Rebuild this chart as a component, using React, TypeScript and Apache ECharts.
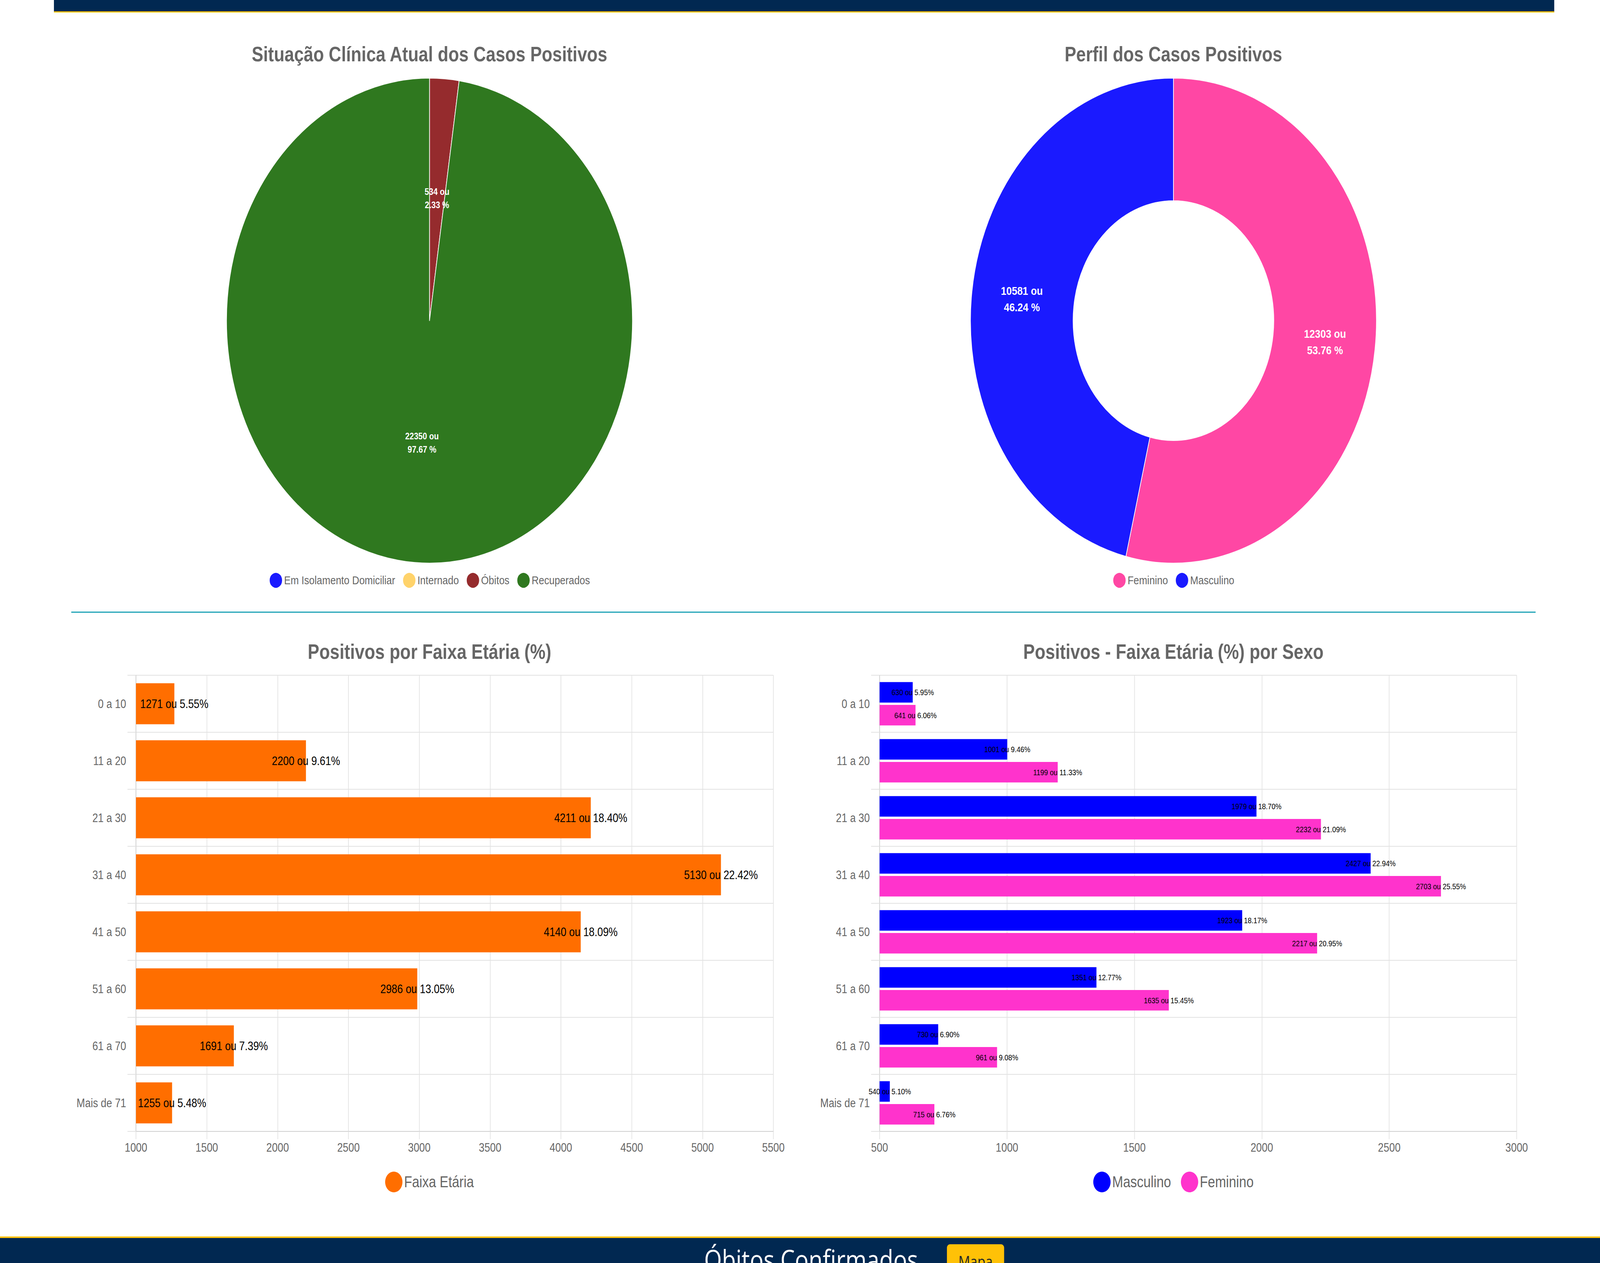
import { useEffect, useRef } from 'react';
import * as echarts from 'echarts';

const FONT = '"Liberation Sans", Arial, Helvetica, sans-serif';
const PAGE_W = 4895;
const PAGE_H = 3234;

// situação clínica
const situacaoNomes = ['Em Isolamento Domiciliar', 'Internado', 'Óbitos', 'Recuperados'];
const situacaoValores = [0, 0, 534, 22350];
const situacaoCores = ['#1a1aff', '#ffd36b', '#952b2d', '#2f781f'];

// perfil por sexo
const sexoNomes = ['Feminino', 'Masculino'];
const sexoValores = [12303, 10581];
const sexoCores = ['#ff47a4', '#1a1aff'];

// faixas etárias
const faixas = ['0 a 10', '11 a 20', '21 a 30', '31 a 40', '41 a 50', '51 a 60', '61 a 70', 'Mais de 71'];
const faixaTotal = [1271, 2200, 4211, 5130, 4140, 2986, 1691, 1255];
const faixaTotalPct = ['5.55', '9.61', '18.40', '22.42', '18.09', '13.05', '7.39', '5.48'];
const masculino = [630, 1001, 1979, 2427, 1923, 1351, 730, 540];
const masculinoPct = ['5.95', '9.46', '18.70', '22.94', '18.17', '12.77', '6.90', '5.10'];
const feminino = [641, 1199, 2232, 2703, 2217, 1635, 961, 715];
const femininoPct = ['6.06', '11.33', '21.09', '25.55', '20.95', '15.45', '9.08', '6.76'];

const titleStyle = { fontSize: 53, fontWeight: 'bold' as const, color: '#666', fontFamily: FONT };

const pieLegend = (names: string[]) => ({
  data: names,
  left: 'center',
  top: 1420,
  icon: 'circle',
  itemWidth: 40,
  itemHeight: 40,
  itemGap: 22,
  textStyle: { fontSize: 30, color: '#666', fontFamily: FONT },
});

const situacaoOption = {
  animation: false,
  title: { text: 'Situação Clínica Atual dos Casos Positivos', left: 'center', top: 72, padding: 0, textStyle: titleStyle },
  legend: pieLegend(situacaoNomes),
  series: [
    {
      type: 'pie',
      center: [1125, 781],
      radius: 621,
      startAngle: 90,
      percentPrecision: 2,
      itemStyle: { borderColor: '#fff', borderWidth: 2 },
      label: {
        show: true,
        position: 'inside',
        formatter: '{c} ou\n{d} %',
        color: '#fff',
        fontSize: 24,
        fontWeight: 'bold',
        lineHeight: 34,
        fontFamily: FONT,
      },
      labelLine: { show: false },
      data: situacaoNomes.map((name, i) => ({ name, value: situacaoValores[i], itemStyle: { color: situacaoCores[i] } })),
    },
  ],
};

const sexoOption = {
  animation: false,
  title: { text: 'Perfil dos Casos Positivos', left: 'center', top: 72, padding: 0, textStyle: titleStyle },
  legend: pieLegend(sexoNomes),
  series: [
    {
      type: 'pie',
      center: [1125, 781],
      radius: [307, 621],
      startAngle: 90,
      percentPrecision: 2,
      itemStyle: { borderColor: '#fff', borderWidth: 2 },
      label: {
        show: true,
        position: 'inside',
        formatter: '{c} ou\n{d} %',
        color: '#fff',
        fontSize: 30,
        fontWeight: 'bold',
        lineHeight: 42,
        fontFamily: FONT,
      },
      labelLine: { show: false },
      data: sexoNomes.map((name, i) => ({ name, value: sexoValores[i], itemStyle: { color: sexoCores[i] } })),
    },
  ],
};

const axisText = { fontSize: 31, color: '#666', fontFamily: FONT };
const gridGray = '#e2e2e2';

const categoryAxis = {
  type: 'category',
  inverse: true,
  data: faixas,
  axisLabel: { ...axisText, margin: 30 },
  axisTick: { show: true, length: 26, lineStyle: { color: gridGray, width: 2 } },
  axisLine: { show: true, lineStyle: { color: '#cfcfcf', width: 2 } },
  splitLine: { show: true, lineStyle: { color: gridGray, width: 2 } },
};

const valueAxis = (min: number, max: number) => ({
  type: 'value',
  min,
  max,
  interval: 500,
  axisLabel: { ...axisText, margin: 26, formatter: (v: number) => String(v) },
  axisTick: { show: true, length: 20, lineStyle: { color: gridGray, width: 2 } },
  axisLine: { show: true, lineStyle: { color: '#cfcfcf', width: 2 } },
  splitLine: { show: true, lineStyle: { color: gridGray, width: 2 } },
});

const barLegend = (names: string[]) => ({
  data: names,
  left: 'center',
  top: 1405,
  icon: 'circle',
  itemWidth: 53,
  itemHeight: 53,
  itemGap: 30,
  textStyle: { fontSize: 40, color: '#666', fontFamily: FONT },
});

const faixaOption = {
  animation: false,
  title: { text: 'Positivos por Faixa Etária (%)', left: 'center', top: 52, padding: 0, textStyle: titleStyle },
  legend: barLegend(['Faixa Etária']),
  grid: { left: 227, top: 139, width: 1950, height: 1168 },
  xAxis: valueAxis(1000, 5500),
  yAxis: categoryAxis,
  series: [
    {
      name: 'Faixa Etária',
      type: 'bar',
      data: faixaTotal,
      barWidth: '72%',
      itemStyle: { color: '#ff6e00' },
      label: {
        show: true,
        position: 'right',
        distance: 0,
        align: 'center',
        fontSize: 31,
        color: '#000',
        fontFamily: FONT,
        formatter: (p: any) => `${p.value} ou ${faixaTotalPct[p.dataIndex]}%`,
      },
    },
  ],
};

const sexoBarLabel = (pct: string[]) => ({
  show: true,
  position: 'right',
  distance: 0,
  align: 'center',
  fontSize: 21,
  color: '#000',
  fontFamily: FONT,
  formatter: (p: any) => `${p.value} ou ${pct[p.dataIndex]}%`,
});

const faixaSexoOption = {
  animation: false,
  title: { text: 'Positivos - Faixa Etária (%) por Sexo', left: 'center', top: 52, padding: 0, textStyle: titleStyle },
  legend: barLegend(['Masculino', 'Feminino']),
  grid: { left: 226, top: 139, width: 1949, height: 1168 },
  xAxis: valueAxis(500, 3000),
  yAxis: categoryAxis,
  series: [
    {
      name: 'Masculino',
      type: 'bar',
      data: masculino,
      barWidth: '36%',
      barGap: '11%',
      itemStyle: { color: '#0000ff' },
      label: sexoBarLabel(masculinoPct),
    },
    {
      name: 'Feminino',
      type: 'bar',
      data: feminino,
      barWidth: '36%',
      barGap: '11%',
      itemStyle: { color: '#ff33cc' },
      label: sexoBarLabel(femininoPct),
    },
  ],
};

function Chart({ option, style }: { option: any; style: React.CSSProperties }) {
  const ref = useRef<HTMLDivElement>(null);

  useEffect(() => {
    if (!ref.current) return;
    const chart = echarts.init(ref.current, null, { renderer: 'svg' });
    chart.setOption(option);
    return () => {
      chart.dispose();
    };
  }, [option]);

  return <div ref={ref} style={{ position: 'absolute', ...style }} />;
}

export default function App() {
  // the page is drawn on a 4895 x 3234 board and fitted onto the real viewport
  const vw = window.innerWidth || PAGE_W;
  const vh = window.innerHeight || PAGE_H;
  const sx = vw / PAGE_W;
  const sy = vh / PAGE_H;

  return (
    <div
      style={{
        position: 'absolute',
        left: 0,
        top: 0,
        width: Math.floor(vw),
        height: Math.floor(vh),
        overflow: 'hidden',
        background: '#fff',
      }}
    >
      <div
        style={{
          position: 'absolute',
          left: 0,
          top: 0,
          width: PAGE_W,
          height: PAGE_H,
          overflow: 'hidden',
          background: '#fff',
          transform: `scale(${sx}, ${sy})`,
          transformOrigin: '0 0',
        }}
      >
        <div
          style={{
            position: 'absolute',
            left: 165,
            top: 0,
            width: 4590,
            height: 29,
            background: '#012851',
            borderBottom: '3px solid #ffc107',
          }}
        />

        <Chart option={situacaoOption} style={{ left: 189, top: 40, width: 2250, height: 1500 }} />
        <Chart option={sexoOption} style={{ left: 2465, top: 40, width: 2250, height: 1500 }} />

        <div style={{ position: 'absolute', left: 218, top: 1566, width: 4480, height: 3, background: '#1fa3b6' }} />

        <Chart option={faixaOption} style={{ left: 189, top: 1590, width: 2250, height: 1500 }} />
        <Chart option={faixaSexoOption} style={{ left: 2465, top: 1590, width: 2250, height: 1500 }} />

        <div
          style={{
            position: 'absolute',
            left: 0,
            top: 3166,
            width: PAGE_W,
            height: 68,
            boxSizing: 'border-box',
            background: '#012851',
            borderTop: '4px solid #ffc107',
          }}
        />
        <div
          style={{
            position: 'absolute',
            left: 2154,
            top: 3176,
            fontFamily: '"Open Sans", sans-serif',
            fontSize: 70,
            color: '#fff',
            whiteSpace: 'nowrap',
          }}
        >
          Óbitos Confirmados
        </div>
        <div
          style={{
            position: 'absolute',
            left: 2897,
            top: 3186,
            width: 175,
            height: 48,
            boxSizing: 'border-box',
            paddingTop: 24,
            background: '#ffc107',
            borderRadius: '9px 9px 0 0',
            textAlign: 'center',
            fontFamily: '"Open Sans", sans-serif',
            fontSize: 40,
            lineHeight: '40px',
            color: '#212529',
            overflow: 'hidden',
          }}
        >
          Mapa
        </div>
      </div>
    </div>
  );
}
